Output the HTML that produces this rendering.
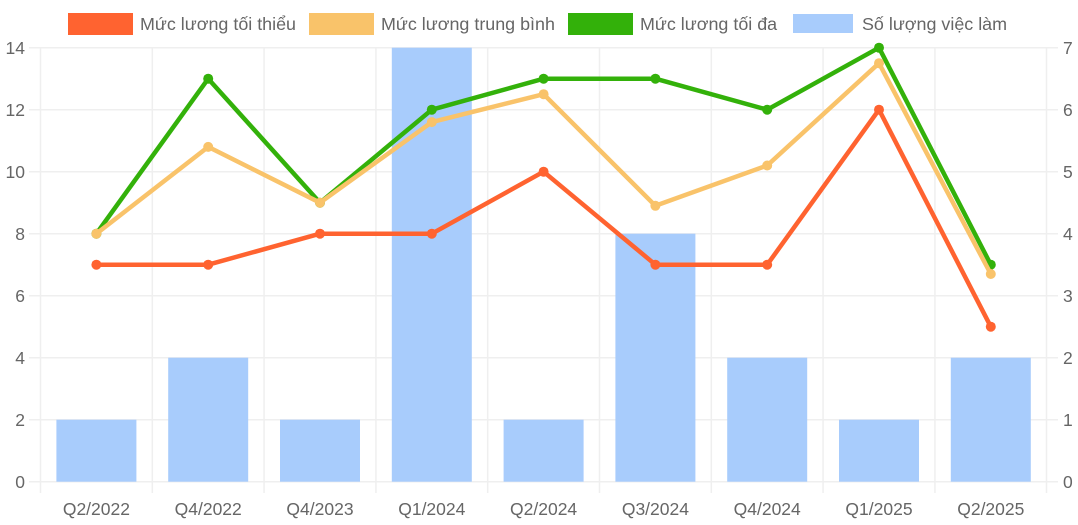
<!DOCTYPE html>
<html><head><meta charset="utf-8"><style>
html,body{margin:0;padding:0;background:#fff;}
svg{display:block;}
text{font-family:"Liberation Sans",Arial,sans-serif;fill:#666;}
</style></head><body>
<svg width="1078" height="525" viewBox="0 0 1078 525" xmlns="http://www.w3.org/2000/svg">
<!-- legend -->
<rect x="70" y="15" width="61" height="18" fill="#ff6330" stroke="#ff6330" stroke-width="4"/>
<text x="140" y="30" font-size="17.9">Mức lương tối thiểu</text>
<rect x="311" y="15" width="61" height="18" fill="#f9c36a" stroke="#f9c36a" stroke-width="4"/>
<text x="381" y="30" font-size="17.9">Mức lương trung bình</text>
<rect x="570" y="15" width="61" height="18" fill="#33b10a" stroke="#33b10a" stroke-width="4"/>
<text x="640" y="30" font-size="17.9">Mức lương tối đa</text>
<rect x="793" y="14" width="60" height="19" fill="#a8ccfc"/>
<text x="862" y="30" font-size="17.9">Số lượng việc làm</text>

<!-- grid -->
<g stroke="#efefef" stroke-width="1.5">
<line x1="29" y1="481.7" x2="1058" y2="481.7"/>
<line x1="29" y1="419.7" x2="1058" y2="419.7"/>
<line x1="29" y1="357.7" x2="1058" y2="357.7"/>
<line x1="29" y1="295.7" x2="1058" y2="295.7"/>
<line x1="29" y1="233.7" x2="1058" y2="233.7"/>
<line x1="29" y1="171.7" x2="1058" y2="171.7"/>
<line x1="29" y1="109.7" x2="1058" y2="109.7"/>
<line x1="29" y1="47.7" x2="1058" y2="47.7"/>
<line x1="40.5" y1="47.7" x2="40.5" y2="493"/>
<line x1="152.3" y1="47.7" x2="152.3" y2="493"/>
<line x1="264.1" y1="47.7" x2="264.1" y2="493"/>
<line x1="375.9" y1="47.7" x2="375.9" y2="493"/>
<line x1="487.7" y1="47.7" x2="487.7" y2="493"/>
<line x1="599.5" y1="47.7" x2="599.5" y2="493"/>
<line x1="711.3" y1="47.7" x2="711.3" y2="493"/>
<line x1="823.1" y1="47.7" x2="823.1" y2="493"/>
<line x1="934.9" y1="47.7" x2="934.9" y2="493"/>
<line x1="1046.5" y1="47.7" x2="1046.5" y2="493"/>
</g>

<!-- left axis labels -->
<g font-size="17.5" text-anchor="end">
<text x="25" y="488">0</text>
<text x="25" y="426">2</text>
<text x="25" y="364">4</text>
<text x="25" y="302">6</text>
<text x="25" y="240">8</text>
<text x="25" y="178">10</text>
<text x="25" y="116">12</text>
<text x="25" y="54">14</text>
</g>
<!-- right axis labels -->
<g font-size="17.5" text-anchor="start">
<text x="1063" y="488">0</text>
<text x="1063" y="426">1</text>
<text x="1063" y="364">2</text>
<text x="1063" y="302">3</text>
<text x="1063" y="240">4</text>
<text x="1063" y="178">5</text>
<text x="1063" y="116">6</text>
<text x="1063" y="54">7</text>
</g>
<!-- x labels -->
<g font-size="17.5" text-anchor="middle">
<text x="96.4" y="515">Q2/2022</text>
<text x="208.2" y="515">Q4/2022</text>
<text x="320" y="515">Q4/2023</text>
<text x="431.8" y="515">Q1/2024</text>
<text x="543.6" y="515">Q2/2024</text>
<text x="655.4" y="515">Q3/2024</text>
<text x="767.2" y="515">Q4/2024</text>
<text x="879" y="515">Q1/2025</text>
<text x="990.8" y="515">Q2/2025</text>
</g>

<!-- bars -->
<g fill="#a8ccfc">
<rect x="56.4" y="419.7" width="80" height="62"/>
<rect x="168.2" y="357.7" width="80" height="124"/>
<rect x="280" y="419.7" width="80" height="62"/>
<rect x="391.8" y="47.7" width="80" height="434"/>
<rect x="503.6" y="419.7" width="80" height="62"/>
<rect x="615.4" y="233.7" width="80" height="248"/>
<rect x="727.2" y="357.7" width="80" height="124"/>
<rect x="839" y="419.7" width="80" height="62"/>
<rect x="950.8" y="357.7" width="80" height="124"/>
</g>

<!-- max (green) -->
<polyline fill="none" stroke="#33b10a" stroke-width="4.5" stroke-linejoin="round" points="96.4,233.7 208.2,78.7 320,202.7 431.8,109.7 543.6,78.7 655.4,78.7 767.2,109.7 879,47.7 990.8,264.7"/>
<g fill="#33b10a">
<circle cx="96.4" cy="233.7" r="5"/><circle cx="208.2" cy="78.7" r="5"/><circle cx="320" cy="202.7" r="5"/><circle cx="431.8" cy="109.7" r="5"/><circle cx="543.6" cy="78.7" r="5"/><circle cx="655.4" cy="78.7" r="5"/><circle cx="767.2" cy="109.7" r="5"/><circle cx="879" cy="47.7" r="5"/><circle cx="990.8" cy="264.7" r="5"/>
</g>

<!-- avg (yellow) -->
<polyline fill="none" stroke="#f9c36a" stroke-width="4.5" stroke-linejoin="round" points="96.4,233.7 208.2,146.9 320,202.7 431.8,122.1 543.6,94.2 655.4,205.8 767.2,165.5 879,63.2 990.8,274"/>
<g fill="#f9c36a">
<circle cx="96.4" cy="233.7" r="5"/><circle cx="208.2" cy="146.9" r="5"/><circle cx="320" cy="202.7" r="5"/><circle cx="431.8" cy="122.1" r="5"/><circle cx="543.6" cy="94.2" r="5"/><circle cx="655.4" cy="205.8" r="5"/><circle cx="767.2" cy="165.5" r="5"/><circle cx="879" cy="63.2" r="5"/><circle cx="990.8" cy="274" r="5"/>
</g>

<!-- min (orange) -->
<polyline fill="none" stroke="#ff6330" stroke-width="4.5" stroke-linejoin="round" points="96.4,264.7 208.2,264.7 320,233.7 431.8,233.7 543.6,171.7 655.4,264.7 767.2,264.7 879,109.7 990.8,326.7"/>
<g fill="#ff6330">
<circle cx="96.4" cy="264.7" r="5"/><circle cx="208.2" cy="264.7" r="5"/><circle cx="320" cy="233.7" r="5"/><circle cx="431.8" cy="233.7" r="5"/><circle cx="543.6" cy="171.7" r="5"/><circle cx="655.4" cy="264.7" r="5"/><circle cx="767.2" cy="264.7" r="5"/><circle cx="879" cy="109.7" r="5"/><circle cx="990.8" cy="326.7" r="5"/>
</g>
</svg>
</body></html>
